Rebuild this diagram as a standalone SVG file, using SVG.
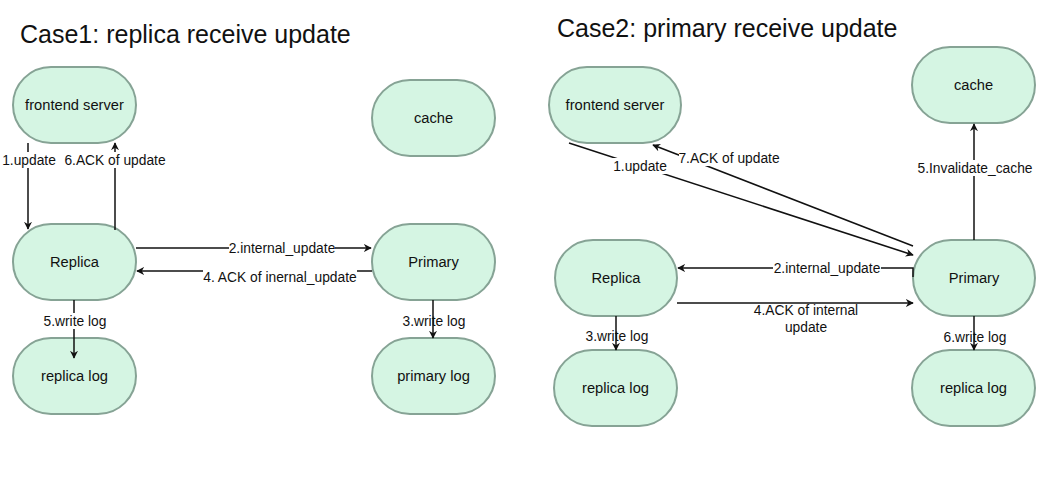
<svg xmlns="http://www.w3.org/2000/svg" width="1045" height="481" viewBox="0 0 1045 481">
<style>
.n{fill:#d5f5e3;stroke:#86a395;stroke-width:2}
.t{font-family:"Liberation Sans",Arial,sans-serif;font-size:14.7px;fill:#111;text-anchor:middle;dominant-baseline:central}
.l{font-family:"Liberation Sans",Arial,sans-serif;font-size:13.8px;fill:#111;text-anchor:middle;dominant-baseline:central}
.bg{fill:#fff}
.e{stroke:#111;stroke-width:1.5;fill:none}
.h{font-family:"Liberation Sans",Arial,sans-serif;font-size:25px;fill:#111}
</style>
<defs>
<marker id="a" viewBox="0 0 10 10" refX="9" refY="5" markerWidth="8" markerHeight="8" markerUnits="userSpaceOnUse" orient="auto"><path d="M0,0 L10,5 L0,10 L3,5 Z" fill="#111"/></marker>
</defs>
<rect width="1045" height="481" fill="#fff"/>
<text class="h" x="20" y="43">Case1: replica receive update</text>
<text class="h" x="557" y="37">Case2: primary receive update</text>
<g id="c1-frontend"><rect class="n" x="13" y="67" width="123" height="76" rx="38"/><text class="t" x="74.5" y="105">frontend server</text></g>
<g id="c1-cache"><rect class="n" x="372" y="80" width="123" height="76" rx="38"/><text class="t" x="433.5" y="118">cache</text></g>
<g id="c1-replica"><rect class="n" x="13" y="224" width="123" height="76" rx="38"/><text class="t" x="74.5" y="262">Replica</text></g>
<g id="c1-primary"><rect class="n" x="372" y="224" width="123" height="76" rx="38"/><text class="t" x="433.5" y="262">Primary</text></g>
<g id="c1-replica-log"><rect class="n" x="13" y="338" width="123" height="76" rx="38"/><text class="t" x="74.5" y="376">replica log</text></g>
<g id="c1-primary-log"><rect class="n" x="372" y="338" width="123" height="76" rx="38"/><text class="t" x="433.5" y="376">primary log</text></g>
<g id="c2-frontend"><rect class="n" x="549" y="67" width="132" height="76" rx="38"/><text class="t" x="615" y="105">frontend server</text></g>
<g id="c2-cache"><rect class="n" x="912" y="47" width="123" height="76" rx="38"/><text class="t" x="973.5" y="85">cache</text></g>
<g id="c2-replica"><rect class="n" x="555" y="240" width="122" height="76" rx="38"/><text class="t" x="616" y="278">Replica</text></g>
<g id="c2-primary"><rect class="n" x="913" y="240" width="122" height="76" rx="38"/><text class="t" x="974" y="278">Primary</text></g>
<g id="c2-replica-log"><rect class="n" x="554" y="350" width="123" height="76" rx="38"/><text class="t" x="615.5" y="388">replica log</text></g>
<g id="c2-replica-log2"><rect class="n" x="912" y="350" width="123" height="76" rx="38"/><text class="t" x="973.5" y="388">replica log</text></g>
<g id="connectors">
<line class="e" x1="28" y1="143" x2="28" y2="229" marker-end="url(#a)"/>
<line class="e" x1="115" y1="230" x2="115" y2="143" marker-end="url(#a)"/>
<line class="e" x1="136" y1="248" x2="371" y2="248" marker-end="url(#a)"/>
<line class="e" x1="372" y1="271" x2="137" y2="271" marker-end="url(#a)"/>
<line class="e" x1="74" y1="300" x2="74" y2="358" marker-end="url(#a)"/>
<line class="e" x1="433" y1="300" x2="433" y2="338" marker-end="url(#a)"/>
<line class="e" x1="569" y1="143" x2="913" y2="255" marker-end="url(#a)"/>
<line class="e" x1="913" y1="246" x2="653" y2="145" marker-end="url(#a)"/>
<path class="e" d="M913,277 L913,268 L678,268" marker-end="url(#a)"/>
<line class="e" x1="677" y1="303" x2="913" y2="303" marker-end="url(#a)"/>
<line class="e" x1="974" y1="240" x2="974" y2="124" marker-end="url(#a)"/>
<line class="e" x1="616" y1="316" x2="616" y2="350" marker-end="url(#a)"/>
<line class="e" x1="974" y1="316" x2="974" y2="350" marker-end="url(#a)"/>
<g id="edge-labels">
<rect class="bg" x="3" y="152" width="52" height="16"/><text class="l" x="29" y="160">1.update</text>
<rect class="bg" x="65" y="152" width="100" height="16"/><text class="l" x="115" y="160">6.ACK of update</text>
<rect class="bg" x="229" y="240" width="106" height="16"/><text class="l" x="282" y="248">2.internal_update</text>
<rect class="bg" x="203" y="269" width="154" height="16"/><text class="l" x="280" y="277">4. ACK of inernal_update</text>
<rect class="bg" x="44" y="313" width="62" height="16"/><text class="l" x="75" y="321">5.write log</text>
<text class="l" x="434" y="321">3.write log</text>
<rect class="bg" x="612" y="158" width="56" height="16"/><text class="l" x="640" y="166">1.update</text>
<rect class="bg" x="679" y="150" width="101" height="16"/><text class="l" x="729" y="158">7.ACK of update</text>
<rect class="bg" x="773" y="260" width="108" height="16"/><text class="l" x="827" y="268">2.internal_update</text>
<text class="l" x="806" y="310">4.ACK of internal</text>
<text class="l" x="806" y="327">update</text>
<rect class="bg" x="917" y="160" width="116" height="16"/><text class="l" x="975" y="168">5.Invalidate_cache</text>
<text class="l" x="617" y="336">3.write log</text>
<text class="l" x="975" y="337">6.write log</text>
</g>
</g>
</svg>
